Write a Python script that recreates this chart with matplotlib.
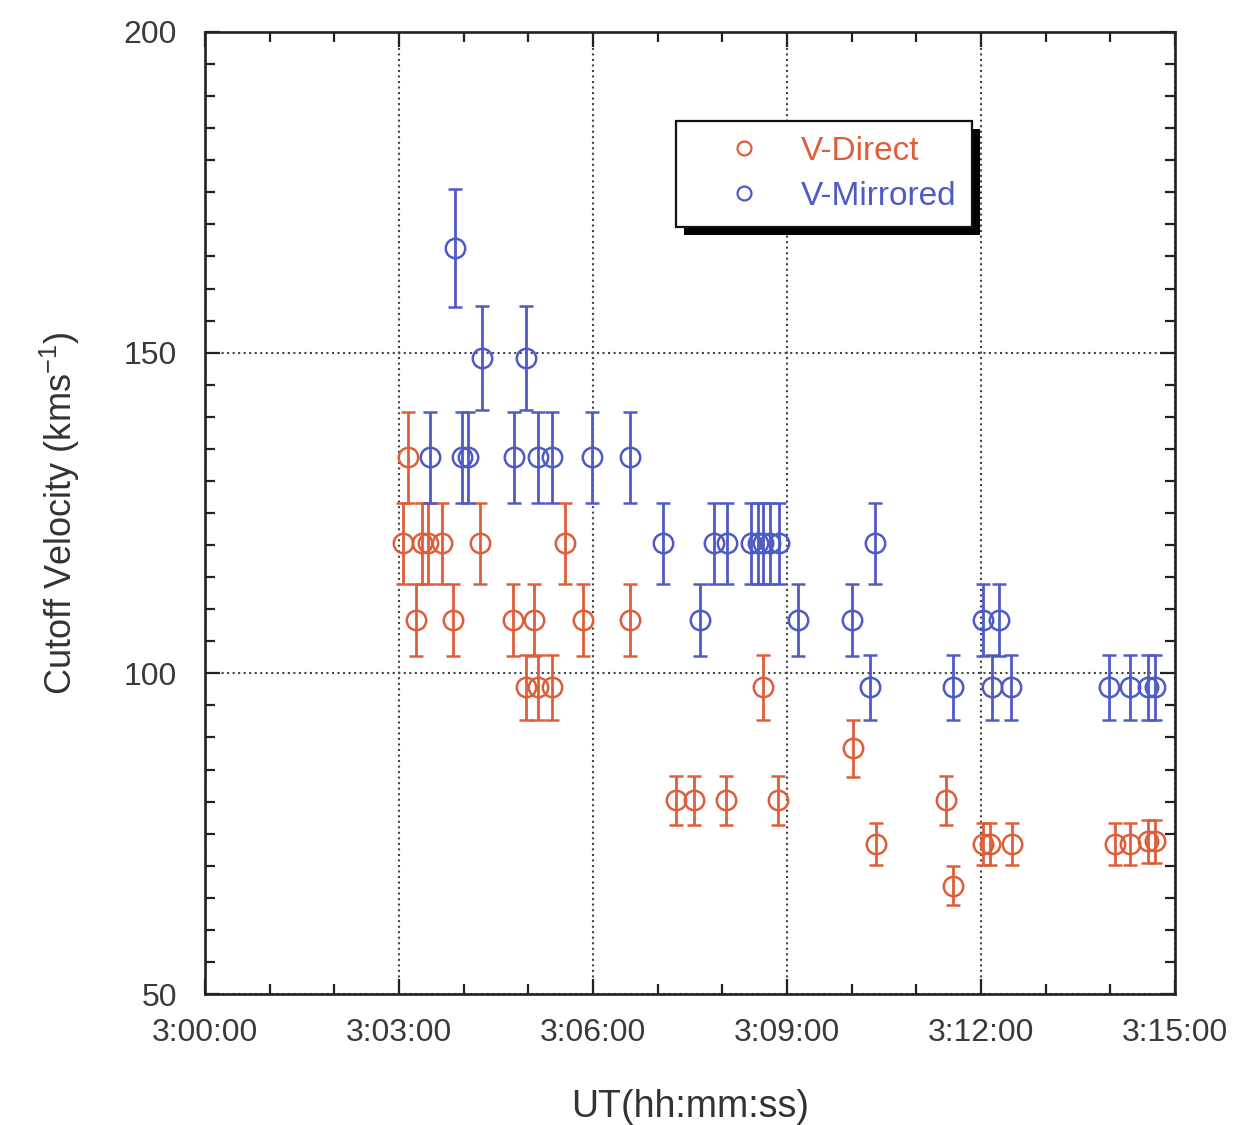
import matplotlib
matplotlib.use("Agg")
import matplotlib.pyplot as plt
from matplotlib.ticker import MultipleLocator, FuncFormatter
from matplotlib.lines import Line2D
from matplotlib.patches import Rectangle
from matplotlib.transforms import IdentityTransform

plt.rcParams['font.family'] = ['Liberation Sans', 'DejaVu Sans']
plt.rcParams['mathtext.default'] = 'regular'

# --- data ---
direct_time = ["3:03:04", "3:03:08", "3:03:16", "3:03:21", "3:03:27", "3:03:40", "3:03:50",
               "3:04:15", "3:04:46", "3:04:58", "3:05:05", "3:05:09", "3:05:22", "3:05:34",
               "3:05:51", "3:06:34", "3:07:17", "3:07:34", "3:08:03", "3:08:38", "3:08:52",
               "3:10:01", "3:10:23", "3:11:28", "3:11:34", "3:12:02", "3:12:08", "3:12:29",
               "3:14:04", "3:14:18", "3:14:35", "3:14:41"]
direct_v = [120.3, 133.7, 108.3, 120.3, 120.3, 120.3, 108.3,
            120.3, 108.3, 97.8, 108.3, 97.8, 97.8, 120.3,
            108.3, 108.3, 80.2, 80.2, 80.2, 97.8, 80.2,
            88.3, 73.4, 80.2, 66.9, 73.4, 73.4, 73.4,
            73.4, 73.4, 73.8, 73.8]
direct_err = [6.3, 7.1, 5.6, 6.3, 6.3, 6.3, 5.6,
              6.3, 5.6, 5.1, 5.6, 5.1, 5.1, 6.3,
              5.6, 5.6, 3.8, 3.8, 3.8, 5.1, 3.8,
              4.5, 3.3, 3.8, 3.0, 3.3, 3.3, 3.3,
              3.3, 3.3, 3.4, 3.4]

mirror_time = ["3:03:29", "3:03:52", "3:03:58", "3:04:04", "3:04:17", "3:04:47", "3:04:58",
               "3:05:09", "3:05:22", "3:05:59", "3:06:34", "3:07:05", "3:07:39", "3:07:52",
               "3:08:04", "3:08:27", "3:08:33", "3:08:38", "3:08:44", "3:08:53", "3:09:10",
               "3:10:00", "3:10:17", "3:10:22", "3:11:34", "3:12:02", "3:12:10", "3:12:17",
               "3:12:28", "3:13:59", "3:14:18", "3:14:35", "3:14:41"]
mirror_v = [133.7, 166.3, 133.7, 133.7, 149.1, 133.7, 149.1,
            133.7, 133.7, 133.7, 133.7, 120.3, 108.3, 120.3,
            120.3, 120.3, 120.3, 120.3, 120.3, 120.3, 108.3,
            108.3, 97.8, 120.3, 97.8, 108.3, 97.8, 108.3,
            97.8, 97.8, 97.8, 97.8, 97.8]
mirror_err = [7.1, 9.2, 7.1, 7.1, 8.1, 7.1, 8.1,
              7.1, 7.1, 7.1, 7.1, 6.3, 5.6, 6.3,
              6.3, 6.3, 6.3, 6.3, 6.3, 6.3, 5.6,
              5.6, 5.1, 6.3, 5.1, 5.6, 5.1, 5.6,
              5.1, 5.1, 5.1, 5.1, 5.1]

RED = '#DF5E3A'
BLUE = '#4E5AC6'


def to_sec(s):
    h, m, sec = s.split(":")
    return int(h) * 3600 + int(m) * 60 + int(sec)


def fmt_time(v, pos):
    v = int(round(v))
    return f"{v // 3600}:{(v % 3600) // 60:02d}:{v % 60:02d}"


fig = plt.figure(figsize=(12.35, 11.25), dpi=100)
ax = fig.add_axes([0.166, 0.1164, 0.7854, 0.8552])

for t, v, e, c in [(direct_time, direct_v, direct_err, RED),
                   (mirror_time, mirror_v, mirror_err, BLUE)]:
    ax.errorbar([to_sec(s) for s in t], v, yerr=e, fmt='o', mfc='none', mec=c,
                ecolor=c, ms=14, mew=1.8, elinewidth=2.0, capsize=4.8, capthick=2.0,
                zorder=3)

ax.set_xlim(to_sec("3:00:00"), to_sec("3:15:00"))
ax.set_ylim(50, 200)
ax.xaxis.set_major_locator(MultipleLocator(180))
ax.xaxis.set_minor_locator(MultipleLocator(60))
ax.xaxis.set_major_formatter(FuncFormatter(fmt_time))
ax.yaxis.set_major_locator(MultipleLocator(50))
ax.yaxis.set_minor_locator(MultipleLocator(5))

ax.grid(which='major', linestyle=':', color='#444444', linewidth=1.5)
ax.tick_params(which='both', direction='in', top=True, right=True, width=1.6,
               colors='#222222', labelcolor='#3a3a3a', labelsize=23)
ax.tick_params(which='major', length=11)
ax.tick_params(which='minor', length=7)
ax.tick_params(axis='x', pad=17)
ax.tick_params(axis='y', pad=20)
for sp in ax.spines.values():
    sp.set_linewidth(1.9)
    sp.set_color('#222222')

ax.set_xlabel("UT(hh:mm:ss)", fontsize=27, color='#333333', labelpad=30)
ax.set_ylabel("Cutoff Velocity (kms$^{-1}$)", fontsize=26, color='#333333', labelpad=30)

handles = [Line2D([], [], ls='none', marker='o', mfc='none', mec=RED, ms=10, mew=1.6),
           Line2D([], [], ls='none', marker='o', mfc='none', mec=BLUE, ms=10, mew=1.6)]
leg = ax.legend(handles, ["V-Direct", "V-Mirrored"], loc='upper left',
                bbox_to_anchor=(0.4856, 0.9075), borderaxespad=0, fontsize=24,
                frameon=True, fancybox=False, framealpha=1, edgecolor='#111111',
                borderpad=0.45, handlelength=3.2, handletextpad=0.1, labelspacing=0.42,
                labelcolor=[RED, BLUE])
leg.get_frame().set_linewidth(1.6)
leg.set_zorder(5)

# thick black drop shadow behind the legend box
fig.canvas.draw()
bb = leg.get_window_extent()
shadow = Rectangle((bb.x0 + 8, bb.y0 - 8), bb.width, bb.height, transform=IdentityTransform(),
                   facecolor='black', edgecolor='none', zorder=4.9)
ax.add_artist(shadow)

fig.savefig("out.png", dpi=100)
